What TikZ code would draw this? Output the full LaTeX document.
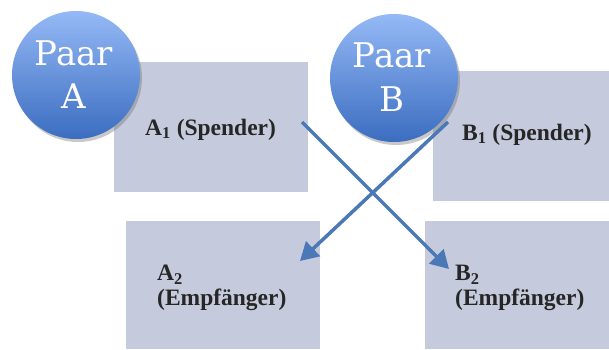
\documentclass[tikz,border=0pt]{standalone}
\usepackage{fontspec}
\setmainfont{Liberation Serif}
\newfontfamily\circfont{DejaVu Serif}
\usetikzlibrary{arrows.meta,shadows}
\definecolor{boxc}{HTML}{C5CBDC}
\definecolor{arrc}{HTML}{4B78B6}
\definecolor{ctop}{HTML}{95B9F6}
\definecolor{cbot}{HTML}{3B6DC0}
\begin{document}
\begin{tikzpicture}[x=1pt,y=1pt,
  boxnode/.style={fill=boxc,draw=none,inner sep=0pt,minimum width=#1,anchor=south west},
  paar/.style={circle,minimum size=128pt,inner sep=0pt,top color=ctop,bottom color=cbot,
    drop shadow={shadow xshift=2pt,shadow yshift=-3pt,opacity=0.35,fill=black!60}},
  ptext/.style={text=white,font=\circfont\fontsize{34}{43}\selectfont,align=center,inner sep=0pt},
  lbl/.style={font=\bfseries\fontsize{23.5}{25}\selectfont,text=black!85,inner sep=0pt,align=left},
  conn/.style={draw=arrc,line width=3.5pt,-{Triangle[length=18pt,width=20pt]}}
]
\useasboundingbox (0,0) rectangle (609,349);
\fill[white] (0,0) rectangle (609,349);
% boxes
\node[boxnode=194pt,minimum height=130pt] (a1) at (114,157) {};
\node[boxnode=176pt,minimum height=130pt] (b1) at (433,148) {};
\node[boxnode=194pt,minimum height=128pt] (a2) at (126,0) {};
\node[boxnode=184pt,minimum height=128pt] (b2) at (425,0) {};
% labels
\node[lbl,anchor=base west] (ta1) at (145,214) {A\textsubscript{1} (Spender)};
\node[lbl,anchor=base west] (tb1) at (462,209) {B\textsubscript{1} (Spender)};
\node[lbl,anchor=west] (ta2) at (157,61) {A\textsubscript{2}\\(Empfänger)};
\node[lbl,anchor=west] (tb2) at (455,61) {B\textsubscript{2}\\(Empfänger)};
% circles
\node[paar] (pa) at (76,274) {};
\node[paar] (pb) at (394,271) {};
\node[ptext,anchor=base] (tpa) at (74,284) {Paar};
\node[ptext,anchor=base] (tpa2) at (74,241) {A};
\node[ptext,anchor=base] (tpb) at (392,282) {Paar};
\node[ptext,anchor=base] (tpb2) at (392,238) {B};
% connectors
\coordinate (a1out) at (302,227);
\coordinate (b2in) at (449,80);
\coordinate (b1out) at (448,227);
\coordinate (a2in) at (300,88);
\draw[conn] (a1out) -- (b2in);
\draw[conn] (b1out) -- (a2in);
\end{tikzpicture}
\end{document}
